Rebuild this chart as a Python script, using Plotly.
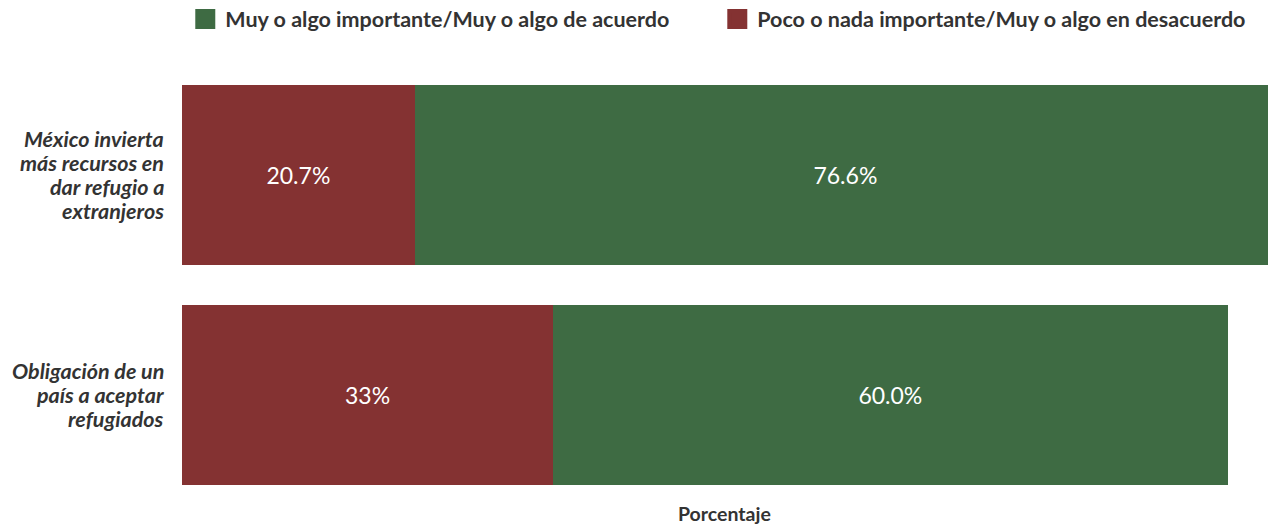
import plotly.graph_objects as go

categories = ["México invierta<br>más recursos en<br>dar refugio a<br>extranjeros",
              "Obligación de un<br>país a aceptar<br>refugiados"]
desacuerdo = [20.7, 33]
acuerdo = [76.6, 60.0]
desacuerdo_text = ["20.7%", "33%"]
acuerdo_text = ["76.6%", "60.0%"]

green = "#3e6b43"
red = "#843232"
font = "Lato"

fig = go.Figure()
fig.add_trace(go.Bar(y=categories, x=desacuerdo, orientation="h", marker_color=red,
                     marker_line_width=0,
                     text=desacuerdo_text, textposition="inside", insidetextanchor="middle",
                     textfont=dict(color="white", size=23, family=font), showlegend=False,
                     name="Poco o nada importante/Muy o algo en desacuerdo"))
fig.add_trace(go.Bar(y=categories, x=acuerdo, orientation="h", marker_color=green,
                     marker_line_width=0,
                     text=acuerdo_text, textposition="inside", insidetextanchor="middle",
                     textfont=dict(color="white", size=23, family=font), showlegend=False,
                     name="Muy o algo importante/Muy o algo de acuerdo"))

# legend entries: own legends so each can be placed, border to make squares bigger
for name, col, leg in [("Muy o algo importante/Muy o algo de acuerdo", green, "legend"),
                       ("Poco o nada importante/Muy o algo en desacuerdo", red, "legend2")]:
    fig.add_trace(go.Scatter(x=[None], y=[None], mode="markers", name=name, legend=leg,
                             marker=dict(symbol="square", size=16, color=col,
                                         line=dict(width=4, color=col))))

# category labels, one annotation per line to get tighter line spacing
for cat in categories:
    lines = cat.split("<br>")
    n = len(lines)
    for i, line in enumerate(lines):
        fig.add_annotation(text="<b><i>" + line + "</i></b>", xref="paper", yref="y",
                           x=0, y=cat, xanchor="right", yanchor="middle", xshift=-16,
                           yshift=((n - 1) / 2 - i) * 24, showarrow=False,
                           font=dict(size=21.5))

fig.add_annotation(text="<b>Porcentaje</b>", xref="paper", yref="paper", x=0.5, y=0,
                   yanchor="middle", yshift=-8, xshift=-5, showarrow=False,
                   font=dict(size=19.5))

leg_style = dict(orientation="h", xanchor="left", y=1.1045, yanchor="middle",
                 font=dict(size=21.5, family=font, weight="bold"), itemsizing="trace")

# page body has an 8px margin, so the figure is shrunk by that
fig.update_layout(
    barmode="stack", bargap=0.186,
    width=1268, height=518,
    margin=dict(l=174, r=0, t=57, b=21, autoexpand=False),
    plot_bgcolor="white", paper_bgcolor="white",
    font=dict(family=font, color="#333333", size=20),
    legend=dict(x=0.003, **leg_style),
    legend2=dict(x=0.4893, **leg_style),
    xaxis=dict(range=[0, 97.3], showgrid=False, zeroline=False, showticklabels=False,
               ticks="", showline=False),
    yaxis=dict(autorange="reversed", showgrid=False, ticks="", showticklabels=False,
               automargin=False),
)

fig.write_html("out.html")
